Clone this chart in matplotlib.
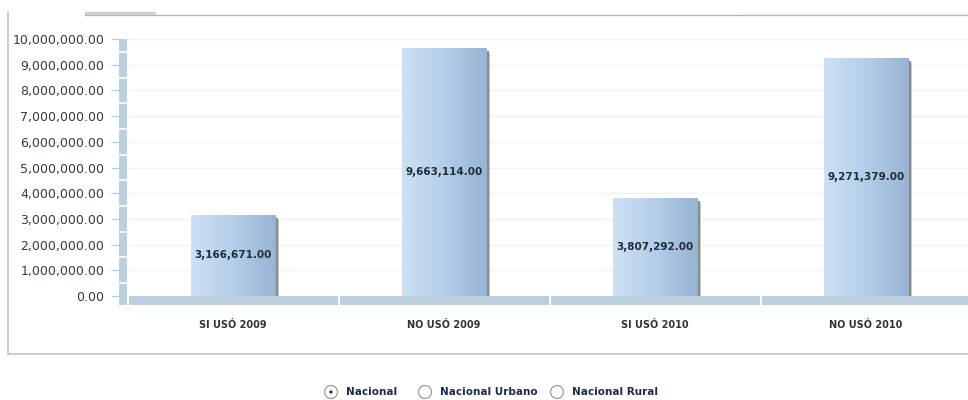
import numpy as np
import matplotlib
matplotlib.use("Agg")
import matplotlib.pyplot as plt
from matplotlib.patches import Rectangle, Circle
from matplotlib.colors import LinearSegmentedColormap
from matplotlib.ticker import FuncFormatter

categorias = ["SI USÓ 2009", "NO USÓ 2009", "SI USÓ 2010", "NO USÓ 2010"]
valores = [3166671.00, 9663114.00, 3807292.00, 9271379.00]
ticks_y = [0, 1e6, 2e6, 3e6, 4e6, 5e6, 6e6, 7e6, 8e6, 9e6, 10e6]
opciones = ["Nacional", "Nacional Urbano", "Nacional Rural"]

W, H = 968, 400
fig = plt.figure(figsize=(W / 100, H / 100), dpi=100)
fig.patch.set_facecolor("white")


def px_axes(x0, y0, x1, y1):
    return fig.add_axes([x0 / W, 1 - y1 / H, (x1 - x0) / W, (y1 - y0) / H])


# marco del panel
deco = px_axes(0, 0, W, H)
deco.set_xlim(0, W)
deco.set_ylim(H, 0)
deco.axis("off")
deco.plot([8, 8], [12, 354], color="#c4c4c4", lw=1.2)
deco.plot([8, W], [354, 354], color="#c4c4c4", lw=1.2)
deco.plot([85, W], [15, 15], color="#b4b4b4", lw=1)
deco.add_patch(Rectangle((85, 12), 70, 3, facecolor="#d4d4d4", edgecolor="#bdbdbd", lw=0.6))
deco.plot([737, W], [12.5, 12.5], color="#f2f6d2", lw=1)

# area del grafico: 0 en y=296 px, 10M en y=39 px
px_per_unit = (296 - 39) / 1e7
y_top = 1e7 + 9 / px_per_unit
y_bot = -9 / px_per_unit
ax = px_axes(119, 30, W, 305)
ax.set_facecolor("none")
ctr0, paso = 233, 211
xlim = ((119 - ctr0) / paso, (W - ctr0) / paso)
ax.set_xlim(*xlim)
ax.set_ylim(y_bot, y_top)
for s in ax.spines.values():
    s.set_visible(False)

x = np.arange(len(categorias))
x_izq = (127 - ctr0) / paso
x_piso = (129 - ctr0) / paso
x_min = xlim[0]

# lineas de cuadricula
for t in ticks_y[1:]:
    ax.plot([x_piso, xlim[1]], [t, t], color="#f0f0f0", lw=1, zorder=0)

# pared izquierda segmentada
ax.add_patch(Rectangle((x_min, y_bot), x_izq - x_min, 1e7 - y_bot,
                       facecolor="#bccfdf", edgecolor="none", zorder=1))
for t in ticks_y[:-1]:
    ax.plot([x_min, x_izq], [t + 5e5, t + 5e5], color="white", lw=1.2, zorder=2)

# piso segmentado por categoria
bordes = [x_piso] + [i + 0.5 for i in range(len(categorias))]
for i in range(len(categorias)):
    a = bordes[i] + (0.0 if i == 0 else 1 / paso)
    b = bordes[i + 1] - 1 / paso
    ax.add_patch(Rectangle((a, y_bot), b - a, -y_bot, facecolor="#bccfdf",
                           edgecolor="none", zorder=1))

# barras con degradado y sombra a la derecha
cmap = LinearSegmentedColormap.from_list("barra", ["#cde1f4", "#b5cde8", "#97b3d3"])
grad = np.linspace(0, 1, 256).reshape(1, -1)
ancho = 0.4
px = 1 / paso
for xi, v in zip(x, valores):
    x0 = xi - ancho / 2
    ax.add_patch(Rectangle((x0 + ancho, 0), 2.5 * px, v - 3 / px_per_unit,
                           facecolor="#8a8a8a", edgecolor="none", zorder=3))
    ax.add_patch(Rectangle((x0 + ancho + 2.5 * px, 0), 1 * px, v - 5 / px_per_unit,
                           facecolor="#c8c8c8", edgecolor="none", zorder=3))
    barra = Rectangle((x0, 0), ancho, v, facecolor="none", edgecolor="none", zorder=4)
    ax.add_patch(barra)
    im = ax.imshow(grad, extent=[x0, x0 + ancho, 0, v], aspect="auto", cmap=cmap,
                   zorder=4, interpolation="bilinear")
    im.set_clip_path(barra)
    ax.text(xi, v / 2, f"{v:,.2f}", ha="center", va="center", fontsize=7.5,
            fontweight="bold", color="#1e2d3c", zorder=5)

ax.set_xlim(*xlim)
ax.set_ylim(y_bot, y_top)

ax.set_yticks(ticks_y)
ax.yaxis.set_major_formatter(FuncFormatter(lambda v, p: f"{v:,.2f}"))
ax.tick_params(axis="y", length=6, width=1, color="#b9cde0", pad=4.5,
               labelsize=9, labelcolor="#2e3b4a")
ax.set_xticks([])

for xi, c in zip(x, categorias):
    deco.text(ctr0 + paso * xi, 325, c, ha="center", va="center", fontsize=7,
              fontweight="bold", color="#333333")

# selector inferior
pos_circ = [331, 425, 557]
for cx, txt in zip(pos_circ, opciones):
    deco.add_patch(Circle((cx, 392), 6.5, facecolor="white", edgecolor="#9a9a9a", lw=0.9))
    deco.text(cx + 15, 392, txt, ha="left", va="center", fontsize=7.5,
              fontweight="bold", color="#1c2a4e")
deco.add_patch(Circle((pos_circ[0], 392), 1.6, facecolor="#333333", edgecolor="none"))

fig.savefig("out.png", dpi=100)
